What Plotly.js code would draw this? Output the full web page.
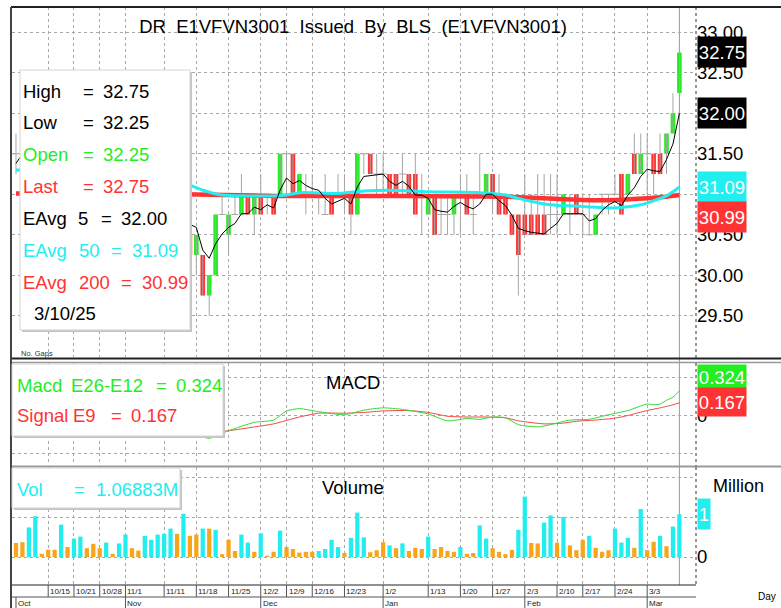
<!DOCTYPE html>
<html><head><meta charset="utf-8">
<script src="https://cdn.plot.ly/plotly-3.0.1.min.js"></script>
<style>html,body{margin:0;padding:0;background:#fff;}#chart{width:781px;height:608px;}</style>
</head><body><div id="chart"></div>
<script>
// ---------------- DATA ----------------
const dates = ['10/7','10/8','10/9','10/10','10/11','10/15','10/16','10/17','10/18','10/21','10/22','10/24','10/25','10/28','10/29','10/30','10/31',
'11/1','11/4','11/5','11/6','11/7','11/8','11/11','11/12','11/13','11/14','11/15','11/18','11/19','11/20','11/21','11/22','11/25','11/26','11/27','11/28','11/29',
'12/2','12/3','12/4','12/6','12/9','12/11','12/12','12/13','12/16','12/17','12/18','12/19','12/20','12/23','12/24','12/25','12/26','12/27','12/30',
'1/2','1/3','1/6','1/7','1/8','1/9','1/10','1/13','1/14','1/15','1/16','1/17','1/20','1/21','1/22','1/23','1/24','1/27','1/28','1/29','1/30','1/31',
'2/3','2/4','2/5','2/6','2/7','2/10','2/11','2/13','2/14','2/17','2/18','2/19','2/20','2/21','2/24','2/25','2/26','2/27','2/28',
'3/3','3/4','3/5','3/6','3/7','3/10'];
const yearSuffix = '25';

const openP = [31.5,31.5,31.75,31.5,31.5,31.25,31.5,31.25,31.5,31.25,31.0,31.25,31.0,31.25,31.25,31.5,31.25,
31.0,31.25,31.0,31.0,31.25,31.0,30.75,31.0,30.75,30.75,30.5,30.25,30.25,29.75,30.0,30.75,30.5,30.75,30.75,31.0,30.75,
31.0,31.0,31.0,31.0,31.5,31.5,31.0,31.0,31.0,31.0,30.75,31.0,31.0,31.0,31.0,30.75,31.5,31.5,31.25,
31.25,31.25,31.25,31.25,31.25,31.25,31.0,30.75,31.0,30.75,30.75,30.75,31.0,31.0,30.75,31.0,31.0,31.25,31.0,31.0,30.75,30.75,
30.75,30.75,30.75,30.75,30.75,30.75,30.75,30.75,31.0,30.75,30.5,30.5,31.0,31.0,31.0,31.25,31.0,31.5,31.25,
31.5,31.5,31.5,31.5,31.75,32.25];
const highP = [31.75,31.75,32.0,31.75,31.5,31.5,31.5,31.5,31.5,31.5,31.25,31.25,31.25,31.5,31.5,31.5,31.5,
31.25,31.25,31.25,31.25,31.5,31.25,31.0,31.0,31.0,31.0,30.5,30.5,30.25,30.0,30.75,31.0,30.75,31.0,31.25,31.0,31.0,
31.25,31.0,31.0,31.5,31.5,31.5,31.25,31.25,31.25,31.0,31.25,31.0,31.25,31.25,31.0,31.5,31.5,31.5,31.5,
31.5,31.25,31.25,31.5,31.25,31.5,31.25,31.0,31.0,31.0,31.0,31.0,31.25,31.25,31.0,31.5,31.25,31.25,31.25,31.0,30.75,30.75,
31.25,31.0,31.25,31.25,31.25,31.25,31.0,31.0,31.0,31.0,31.0,30.75,31.0,31.0,31.25,31.25,31.25,31.75,31.75,
31.75,31.5,31.75,31.75,32.25,32.75];
const lowP = [31.25,31.5,31.5,31.25,31.25,31.25,31.25,31.0,31.25,31.0,31.0,31.0,31.0,31.25,31.0,31.25,31.0,
31.0,31.0,31.0,30.75,31.0,30.75,30.5,30.75,30.5,30.5,30.25,30.0,29.75,29.5,30.0,30.75,30.25,30.75,30.75,30.75,30.5,
30.75,30.75,30.75,31.0,31.0,31.0,31.0,30.75,31.0,30.75,30.75,30.75,31.0,30.75,30.5,30.75,31.25,31.25,31.0,
31.0,31.0,31.0,31.0,31.0,30.75,30.5,30.75,30.5,30.5,30.5,30.5,30.5,30.75,30.5,31.0,31.0,30.75,30.75,30.75,30.5,29.75,
30.5,30.5,30.5,30.5,30.5,30.5,30.75,30.5,30.75,30.5,30.5,30.5,30.75,30.75,31.0,30.75,31.0,31.25,31.25,
31.0,31.0,31.25,31.25,31.75,32.25];
const closeP = [31.5,31.75,31.5,31.5,31.25,31.5,31.25,31.5,31.25,31.0,31.25,31.0,31.25,31.25,31.5,31.25,31.0,
31.25,31.0,31.0,31.25,31.0,30.75,31.0,30.75,30.75,30.75,30.25,30.5,29.75,30.0,30.75,30.75,30.75,30.75,31.0,30.75,31.0,
30.75,31.0,30.75,31.5,31.5,31.0,31.25,31.0,31.0,31.0,30.75,30.75,31.0,31.0,30.75,31.5,31.5,31.25,31.25,
31.25,31.0,31.0,31.25,31.0,30.75,31.0,31.0,30.5,30.75,30.75,31.0,31.0,30.75,30.75,31.0,31.25,31.0,30.75,30.75,30.5,30.25,
30.5,30.5,30.5,30.5,30.75,30.75,31.0,30.75,30.75,30.75,30.5,30.75,31.0,31.0,31.0,30.75,31.25,31.25,31.5,
31.5,31.25,31.25,31.75,32.0,32.75];
// volume in millions; side: 'c' = cyan bar, 'o' = orange bar
const volM = [0.35,0.37,0.74,1.02,0.08,0.18,0.18,0.81,0.25,0.46,0.51,0.22,0.33,0.22,0.36,0.08,0.34,
0.56,0.22,0.16,0.53,0.43,0.56,0.58,0.71,0.58,1.08,0.53,0.56,0.71,0.71,0.68,0.07,0.43,0.15,0.56,0.36,0.13,
0.59,0.03,0.13,0.66,0.25,0.20,0.11,0.13,0.13,0.15,0.20,0.43,0.25,0.10,0.48,1.11,0.49,0.12,0.17,
0.37,0.29,0.22,0.34,0.15,0.23,0.20,0.51,0.20,0.25,0.15,0.13,0.25,0.08,0.10,0.79,0.46,0.22,0.13,0.07,0.18,0.68,
1.51,0.35,0.34,0.86,1.04,0.36,1.00,0.29,0.17,0.43,0.53,0.23,0.13,0.17,0.71,0.36,0.48,0.23,1.20,
0.17,0.38,0.53,0.27,0.76,1.06883];
const volSide = ['o','o','c','c','o','o','o','c','o','c','c','o','o','o','c','o','c',
'c','o','o','c','c','c','c','c','o','c','o','o','c','o','c','o','o','o','c','c','o',
'c','o','o','c','o','o','o','o','o','c','c','c','c','o','c','c','c','o','o',
'o','c','o','c','o','o','o','c','o','o','o','o','c','o','o','c','c','o','o','o','o','c',
'c','o','o','c','c','o','c','o','o','o','c','o','o','o','c','c','c','o','c',
'o','o','c','o','c','c'];
const ema5 = [31.38,31.50,31.50,31.50,31.42,31.45,31.38,31.42,31.36,31.24,31.24,31.16,31.19,31.21,31.31,31.29,31.19,
31.21,31.14,31.09,31.15,31.10,30.98,30.99,30.91,30.86,30.82,30.63,30.59,30.31,30.21,30.39,30.51,30.59,30.64,30.76,30.76,30.84,
30.81,30.87,30.83,31.05,31.20,31.13,31.17,31.11,31.07,31.05,30.95,30.88,30.92,30.95,30.88,31.09,31.22,31.23,31.24,
31.25,31.16,31.11,31.16,31.10,30.99,30.99,30.95,30.81,30.79,30.78,30.85,30.90,30.85,30.82,30.88,31.00,31.00,30.92,30.86,30.74,30.58,
30.55,30.53,30.52,30.51,30.58,30.64,30.76,30.76,30.76,30.76,30.67,30.70,30.80,30.87,30.91,30.86,30.99,31.08,31.22,
31.31,31.29,31.28,31.43,31.62,32.00];
const ema50Dates = ['10/7','10/22','11/6','11/14','11/19','11/22','11/28','12/4','12/9','12/12','12/20','12/26','1/3','1/13','1/23','1/29','2/3','2/7','2/17','2/24','2/28','3/4','3/6','3/7','3/10'];
const ema50Vals  = [31.30,31.27,31.21,31.14,31.05,30.99,30.98,30.98,30.99,31.02,31.01,31.04,31.05,31.03,31.02,30.99,30.93,30.87,30.85,30.83,30.87,30.92,30.98,31.03,31.09];
const ema200Dates = ['10/7','11/14','12/4','1/7','1/29','2/6','2/17','2/24','3/3','3/6','3/10'];
const ema200Vals  = [31.01,31.00,30.98,30.98,30.97,30.95,30.93,30.93,30.95,30.97,30.99];
const macdDates = ['11/15','11/19','11/20','11/25','11/29','12/4','12/9','12/12','12/17','12/23','12/26','1/2','1/7','1/13','1/16','1/21','1/23','1/27','1/29','1/31','2/5','2/7','2/13','2/18','2/21','2/26','3/3','3/4','3/5','3/6','3/7','3/10'];
const macdVals  = [-0.22,-0.28,-0.30,-0.20,-0.09,-0.06,0.06,0.09,0.05,0.01,0.07,0.10,0.08,0.02,-0.07,-0.04,-0.05,-0.02,-0.03,-0.12,-0.15,-0.12,-0.06,-0.05,0.01,0.065,0.15,0.14,0.15,0.20,0.24,0.324];
const signalDates = ['11/15','11/20','11/25','11/29','12/4','12/12','12/17','12/23','12/26','1/2','1/8','1/13','1/16','1/21','1/24','1/29','1/31','2/6','2/11','2/14','2/19','2/24','2/26','3/3','3/5','3/7','3/10'];
const signalVals  = [-0.20,-0.22,-0.20,-0.15,-0.11,-0.02,0.03,0.03,0.04,0.06,0.065,0.04,-0.01,-0.02,-0.02,-0.03,-0.07,-0.11,-0.10,-0.075,-0.06,-0.035,0.0,0.065,0.10,0.14,0.167];
const tickLabels = ['10/15','10/21','10/28','11/1','11/11','11/18','11/25','12/2','12/9','12/16','12/23','1/2','1/13','1/20','1/27','2/3','2/10','2/17','2/24','3/3'];
const monthNames = ['Oct','Nov','Dec','Jan','Feb','Mar'];
const monthStarts = ['10/7','11/1','12/2','1/2','2/3','3/3'];
const priceTicks = [29.5,30.0,30.5,31.0,31.5,32.0,32.5,33.0];

// ---------------- STYLE ----------------
const FONT = 'Liberation Sans, Arial, sans-serif';
const FS = 18.5;
const GREEN = '#22ee22', RED = '#ff3333', CYAN = '#22eef0', ORANGE = '#f8a51c', WICK = '#a6a6a6';
const W = 781, H = 608;
const px = x => x / W, py = y => 1 - y / H;
const N = dates.length;
const pos = d => dates.indexOf(d);
const xi = dates.map((d, i) => i);
const last = N - 1;
const f2 = v => v.toFixed(2);

// ---------------- TRACES ----------------
const traces = [];
const wx = [], wy = [];
xi.forEach(i => { wx.push(i, i, null); wy.push(lowP[i], highP[i], null); });
traces.push({type:'scatter', mode:'lines', x:wx, y:wy, line:{color:WICK, width:1}, xaxis:'x', yaxis:'y', hoverinfo:'skip'});
const up = xi.filter(i => closeP[i] > openP[i]);
const dn = xi.filter(i => closeP[i] < openP[i]);
const eq = xi.filter(i => closeP[i] === openP[i]);
traces.push({type:'bar', x:up, y:up.map(i => closeP[i]-openP[i]), base:up.map(i => openP[i]), width:0.72,
  marker:{color:GREEN, line:{width:0}}, xaxis:'x', yaxis:'y'});
traces.push({type:'bar', x:dn, y:dn.map(i => openP[i]-closeP[i]), base:dn.map(i => closeP[i]), width:0.72,
  marker:{color:RED, line:{width:0}}, xaxis:'x', yaxis:'y'});
traces.push({type:'scatter', mode:'markers', x:eq, y:eq.map(i => closeP[i]),
  marker:{symbol:'line-ew', size:5, color:WICK, line:{color:WICK, width:1}}, xaxis:'x', yaxis:'y'});
traces.push({type:'scatter', mode:'lines', x:ema200Dates.map(pos), y:ema200Vals,
  line:{color:RED, width:4.5, shape:'spline', smoothing:0.8}, xaxis:'x', yaxis:'y'});
traces.push({type:'scatter', mode:'lines', x:ema50Dates.map(pos), y:ema50Vals,
  line:{color:CYAN, width:3, shape:'spline', smoothing:0.8}, xaxis:'x', yaxis:'y'});
traces.push({type:'scatter', mode:'lines', x:xi, y:ema5, line:{color:'#000', width:1}, xaxis:'x', yaxis:'y'});
// MACD
traces.push({type:'scatter', mode:'lines', x:signalDates.map(pos), y:signalVals,
  line:{color:'#f04848', width:1, shape:'spline', smoothing:0.6}, xaxis:'x2', yaxis:'y2'});
traces.push({type:'scatter', mode:'lines', x:macdDates.map(pos), y:macdVals,
  line:{color:'#30dd30', width:1, shape:'spline', smoothing:0.6}, xaxis:'x2', yaxis:'y2'});
// Volume
traces.push({type:'bar', x:xi, y:volM, width:0.66,
  marker:{color:volSide.map(s => s === 'c' ? CYAN : ORANGE), line:{width:0}}, xaxis:'x3', yaxis:'y3'});

// ---------------- LAYOUT ----------------
const tickIdx = tickLabels.map(pos);
const xBase = {range:[-0.62, 105.58], tickvals:tickIdx, showticklabels:false, ticks:'', showgrid:true,
  gridcolor:'#a8a8a8', griddash:'dot', gridwidth:1, zeroline:false, showline:false, fixedrange:true};
const yBase = {side:'right', ticks:'', showgrid:true, gridcolor:'#a8a8a8', griddash:'dot', gridwidth:1,
  zeroline:false, showline:false, tickfont:{family:FONT, size:FS, color:'#000'}, fixedrange:true, automargin:false};
const xd = [px(12), px(696)];

// price labels that sit fully under a value box (EAvg 5 / EAvg 50) are not drawn, as in the reference
const boxedVals = [ema5[last], ema50Vals[ema50Vals.length-1]];
const priceText = priceTicks.map(t => boxedVals.some(b => Math.abs(b - t) < 0.12) ? '' : f2(t));

const shapes = [];
const line = (x0,y0,x1,y1,color,width,dash) => shapes.push({type:'line', xref:'paper', yref:'paper',
  x0:px(x0), y0:py(y0), x1:px(x1), y1:py(y1), line:{color, width, dash:dash||'solid'}, layer:'above'});
// frames
line(11,7,781,7,'#222',2);
line(11,358.5,781,358.5,'#222',2);
line(11,362.5,781,362.5,'#999',1.5);
line(11,466.5,781,466.5,'#999',2);
line(11,585,696,585,'#222',1);
line(11,597,696,597,'#555',1);
line(11,7,11,608,'#444',2);
line(696,7,696,358,'#333',1,'dot');
line(696,363,696,466,'#333',1,'dot');
line(696,467,696,585,'#333',1,'dot');
// current bar line
shapes.push({type:'line', xref:'x', yref:'paper', x0:last, x1:last, y0:py(7), y1:py(585), line:{color:'#9a9a9a', width:1}, layer:'below'});
// tick separators in the date strip
tickIdx.forEach(i => shapes.push({type:'line', xref:'x3', yref:'paper', x0:i, x1:i, y0:py(585), y1:py(597), line:{color:'#555', width:1}}));
monthStarts.map(pos).forEach(i => shapes.push({type:'line', xref:'x3', yref:'paper', x0:i, x1:i, y0:py(597), y1:py(608), line:{color:'#555', width:1}}));
// info boxes (with shadow)
const box = (x0,y0,x1,y1) => {
  shapes.push({type:'rect', xref:'paper', yref:'paper', x0:px(x0+2), y0:py(y0+2), x1:px(x1+2), y1:py(y1+2), fillcolor:'#c4c4c4', line:{width:0}, layer:'above'});
  shapes.push({type:'rect', xref:'paper', yref:'paper', x0:px(x0), y0:py(y0), x1:px(x1), y1:py(y1), fillcolor:'#fff', line:{color:'#d4d4d4', width:1}, layer:'above'});
};
box(20,70,190,330);
box(12,364,223,436);
box(12,468,180,508);

const ann = [];
const T = (x, y, text, color, size, anchor) => ann.push({xref:'paper', yref:'paper', x:px(x), y:py(y), text,
  showarrow:false, xanchor:anchor||'left', yanchor:'middle', font:{family:FONT, size:size||FS, color:color||'#000'}});
// price info box
[[91,'High','=',f2(highP[last]),'#000'],[123,'Low','=',f2(lowP[last]),'#000'],
 [155,'Open','=',f2(openP[last]),GREEN],[186,'Last','=',f2(closeP[last]),RED]].forEach(r => {
  T(21,r[0],r[1],r[4]); T(81,r[0],r[2],r[4]); T(101,r[0],r[3],r[4]);
});
T(21,218,'EAvg','#000'); T(76,218,'5','#000'); T(99,218,'=','#000'); T(119,218,f2(ema5[last]),'#000');
T(21,251,'EAvg',CYAN); T(77,251,'50',CYAN); T(109,251,'=',CYAN); T(130,251,f2(ema50Vals[ema50Vals.length-1]),CYAN);
T(21,282,'EAvg',RED); T(77,282,'200',RED); T(119,282,'=',RED); T(140,282,f2(ema200Vals[ema200Vals.length-1]),RED);
T(32,313,dates[last] + '/' + yearSuffix,'#000');
T(19,353,'No. Gaps','#333',7.5);
// MACD box
const mLast = macdVals[macdVals.length-1], sLast = signalVals[signalVals.length-1];
T(15,386,'Macd',GREEN); T(69,386,'E26-E12',GREEN); T(154,386,'=',GREEN); T(174,386,mLast.toFixed(3),GREEN);
T(15,415,'Signal',RED); T(71,415,'E9',RED); T(109,415,'=',RED); T(129,415,sLast.toFixed(3),RED);
// Volume box
T(15,489,'Vol',CYAN); T(72,489,'=',CYAN); T(94,489,volM[last].toFixed(5) + 'M',CYAN);
// panel titles
T(353,382,'MACD','#000',18.5,'center');
T(353,487,'Volume','#000',18.5,'center');
T(711,486,'Million','#000',18);
T(756,596,'Day','#000',10);
// right value boxes
const vb = (yref, y, text, bg, yshift, extra) => ann.push(Object.assign({xref:'paper', x:px(697), xanchor:'left', yref, y, yanchor:'middle',
  yshift, text, showarrow:false, bgcolor:bg, borderpad:0, width:48, height:30, align:'center',
  font:{family:FONT, size:FS, color:'#fff'}}, extra||{}));
vb('y', closeP[last], f2(closeP[last]), '#000', 1);
vb('y', ema5[last], f2(ema5[last]), '#000', 0);
vb('y', ema50Vals[ema50Vals.length-1], f2(ema50Vals[ema50Vals.length-1]), CYAN, 0);
vb('y', ema200Vals[ema200Vals.length-1], f2(ema200Vals[ema200Vals.length-1]), RED, -22);
vb('y2', mLast, mLast.toFixed(3), GREEN, 14.5, {height:23, valign:'bottom'});
vb('y2', sLast, sLast.toFixed(3), RED, 1, {height:28});
vb('y3', 1, String(Math.round(volM[last])), CYAN, 3, {width:12});
// date strip labels
tickLabels.forEach((t, k) => ann.push({xref:'x3', yref:'paper', x:tickIdx[k], y:py(591), xanchor:'left', yanchor:'middle', xshift:0,
  text:t, showarrow:false, font:{family:FONT, size:8, color:'#222'}}));
monthNames.forEach((m, k) => ann.push({xref:'x3', yref:'paper', x:pos(monthStarts[k]), y:py(603), xanchor:'left', yanchor:'middle', xshift:0,
  text:m, showarrow:false, font:{family:FONT, size:8, color:'#222'}}));

const layout = {
  width:W, height:H, margin:{l:0,r:0,t:0,b:0}, paper_bgcolor:'#fff', plot_bgcolor:'#fff',
  showlegend:false, hovermode:false, barmode:'overlay',
  title:{text:'DR\u00a0 E1VFVN3001\u00a0 Issued\u00a0 By\u00a0 BLS\u00a0 (E1VFVN3001)', x:px(353), xanchor:'center',
    y:py(27), yanchor:'middle', font:{family:FONT, size:18.5, color:'#000'}},
  xaxis: Object.assign({}, xBase, {domain:xd, anchor:'y'}),
  xaxis2: Object.assign({}, xBase, {domain:xd, anchor:'y2', matches:'x'}),
  xaxis3: Object.assign({}, xBase, {domain:xd, anchor:'y3', matches:'x'}),
  yaxis: Object.assign({}, yBase, {domain:[py(357), py(7)], range:[28.991, 33.312], tickvals:priceTicks,
    ticktext:priceText, anchor:'x'}),
  yaxis2: Object.assign({}, yBase, {domain:[py(465), py(363)], range:[-0.649, 0.688], tickvals:[-0.5,0,0.5],
    ticktext:['','0',''], anchor:'x2'}),
  yaxis3: Object.assign({}, yBase, {domain:[py(585), py(467)], range:[-0.7, 2.25], tickvals:[0,1,2],
    ticktext:['0','',''], anchor:'x3'}),
  shapes, annotations:ann
};
Plotly.newPlot('chart', traces, layout, {staticPlot:true, displayModeBar:false});
</script>
</body></html>
